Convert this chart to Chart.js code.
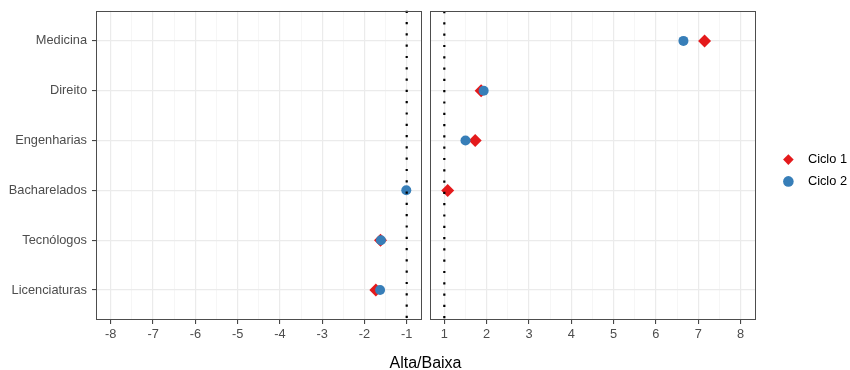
<!DOCTYPE html>
<html>
<head>
<meta charset="utf-8">
<script src="https://cdn.jsdelivr.net/npm/chart.js@4.4.1/dist/chart.umd.min.js"></script>
<style>
  html, body { margin: 0; padding: 0; background: #fff; overflow: hidden; }
  #wrap { position: relative; width: 850px; height: 370px; font-family: "Liberation Sans", Arial, sans-serif; }
  #esq { position: absolute; left: 0; top: -2px; }
  #dir { position: absolute; left: 423px; top: 0; }
  #titulo { position: absolute; left: 0; width: 851px; top: 355px; line-height: 16px;
            text-align: center; font-size: 16px; color: #000; }
</style>
</head>
<body>
<div id="wrap">
  <canvas id="esq" width="428" height="372"></canvas>
  <canvas id="dir" width="427" height="370"></canvas>
  <div id="titulo">Alta/Baixa</div>
</div>
<script>
// ===============================
// DADOS
// ===============================
const categorias = ["Medicina", "Direito", "Engenharias", "Bacharelados", "Tecnólogos", "Licenciaturas"];
const ciclo1 = [7.15, 1.87, 1.73, 1.08, -1.62, -1.73];
const ciclo2 = [6.65, 1.93, 1.50, -1.01, -1.61, -1.63];

const ticksEsq = [-8, -7, -6, -5, -4, -3, -2, -1];
const ticksDir = [1, 2, 3, 4, 5, 6, 7, 8];
const limiar = 1;

const FONTE = '"Liberation Sans", Arial, sans-serif';
const VERMELHO = "#E41A1C";
const AZUL = "#377EB8";

// pontos de um lado (sinal -1 ou 1)
function pontos(valores, sinal) {
  return valores
    .map((v, i) => ({ x: v, y: i }))
    .filter(p => Math.sign(p.x) === sinal);
}

// ticks principais + secundários (meio)
function ticksComMeio(lista) {
  const out = [];
  lista.forEach((v, i) => {
    out.push({ value: v });
    if (i < lista.length - 1) out.push({ value: v + 0.5 });
  });
  return out;
}

const ehInteiro = c => Number.isInteger(c.tick.value);

// moldura do painel
const moldura = {
  id: "moldura",
  afterDraw(chart) {
    const { ctx, chartArea: a } = chart;
    ctx.save();
    ctx.strokeStyle = "#4D4D4D";
    ctx.lineWidth = 1;
    ctx.strokeRect(Math.round(a.left) + 0.5, Math.round(a.top) + 0.5,
      Math.round(a.right - a.left) - 1, Math.round(a.bottom - a.top) - 1);
    ctx.restore();
  }
};

// empurra a legenda para a direita / cima
const legendaDesloc = {
  id: "legendaDesloc",
  afterLayout(chart) {
    const l = chart.legend;
    if (!l) return;
    l.left += 18; l.right += 18;
    l.top -= 20; l.bottom -= 20;
  }
};

function escalaX(lista) {
  const amp = lista[lista.length - 1] - lista[0];
  return {
    type: "linear",
    min: lista[0] - 0.05 * amp,
    max: lista[lista.length - 1] + 0.05 * amp,
    bounds: "data",
    afterBuildTicks: s => { s.ticks = ticksComMeio(lista); },
    afterFit: s => { s.height = 50; },
    border: { display: false },
    grid: {
      color: c => ehInteiro(c) ? "#EBEBEB" : "#F4F4F4",
      lineWidth: c => ehInteiro(c) ? 1.2 : 0.8,
      tickColor: c => ehInteiro(c) ? "#333333" : "rgba(0,0,0,0)",
      tickWidth: 1,
      tickLength: 4
    },
    ticks: {
      autoSkip: false,
      maxRotation: 0,
      padding: 3,
      color: "#4D4D4D",
      font: { family: FONTE, size: 12.8 },
      callback: v => Number.isInteger(v) ? String(v) : ""
    }
  };
}

function escalaY(comRotulos) {
  return {
    type: "linear",
    reverse: true,
    min: -0.6,
    max: categorias.length - 0.4,
    afterBuildTicks: s => { s.ticks = categorias.map((c, i) => ({ value: i })); },
    afterFit: s => { s.width = comRotulos ? 96 : 0; },
    border: { display: false },
    grid: {
      color: "#EBEBEB",
      lineWidth: 1.2,
      drawTicks: comRotulos,
      tickColor: "#333333",
      tickWidth: 1,
      tickLength: 4
    },
    ticks: {
      display: comRotulos,
      padding: 5,
      color: "#4D4D4D",
      font: { family: FONTE, size: 12.8 },
      callback: v => categorias[v]
    }
  };
}

function datasets(sinal) {
  return [
    {
      label: "Ciclo 1",
      data: pontos(ciclo1, sinal),
      pointStyle: "rectRot",
      pointRadius: 6.5,
      backgroundColor: VERMELHO,
      borderColor: VERMELHO,
      borderWidth: 0,
      order: 2
    },
    {
      label: "Ciclo 2",
      data: pontos(ciclo2, sinal),
      pointStyle: "circle",
      pointRadius: 5,
      backgroundColor: AZUL,
      borderColor: AZUL,
      borderWidth: 0,
      order: 1
    },
    {
      label: "limiar",
      type: "line",
      data: [{ x: sinal * limiar, y: -0.6 }, { x: sinal * limiar, y: categorias.length - 0.4 }],
      showLine: true,
      borderColor: "#000",
      borderWidth: 2.2,
      borderDash: [2.2, 9.1],
      borderCapStyle: "butt",
      pointRadius: 0,
      fill: false,
      clip: false,
      order: 0
    }
  ];
}

// ===============================
// PAINEL ESQUERDO
// ===============================
new Chart(document.getElementById("esq").getContext("2d"), {
  type: "scatter",
  data: { datasets: datasets(-1) },
  options: {
    responsive: false,
    animation: false,
    events: [],
    layout: { padding: { left: 0, right: 4, top: 11, bottom: 0 } },
    plugins: { legend: { display: false }, tooltip: { enabled: false } },
    scales: { x: escalaX(ticksEsq), y: escalaY(true) }
  },
  plugins: [moldura]
});

// ===============================
// PAINEL DIREITO + LEGENDA
// ===============================
new Chart(document.getElementById("dir").getContext("2d"), {
  type: "scatter",
  data: { datasets: datasets(1) },
  options: {
    responsive: false,
    animation: false,
    events: [],
    layout: { padding: { left: 5, right: 11, top: 11, bottom: 0 } },
    plugins: {
      tooltip: { enabled: false },
      legend: {
        position: "right",
        labels: {
          usePointStyle: true,
          boxWidth: 12,
          boxHeight: 7.5,
          padding: 9,
          color: "#000",
          font: { family: FONTE, size: 12.8 },
          filter: item => item.datasetIndex < 2,
          sort: (a, b) => a.datasetIndex - b.datasetIndex,
          generateLabels: chart => {
            const base = Chart.defaults.plugins.legend.labels.generateLabels(chart);
            return base.map(it => ({ ...it, text: "  " + it.text }));
          }
        }
      }
    },
    scales: { x: escalaX(ticksDir), y: escalaY(false) }
  },
  plugins: [moldura, legendaDesloc]
});
</script>
</body>
</html>
